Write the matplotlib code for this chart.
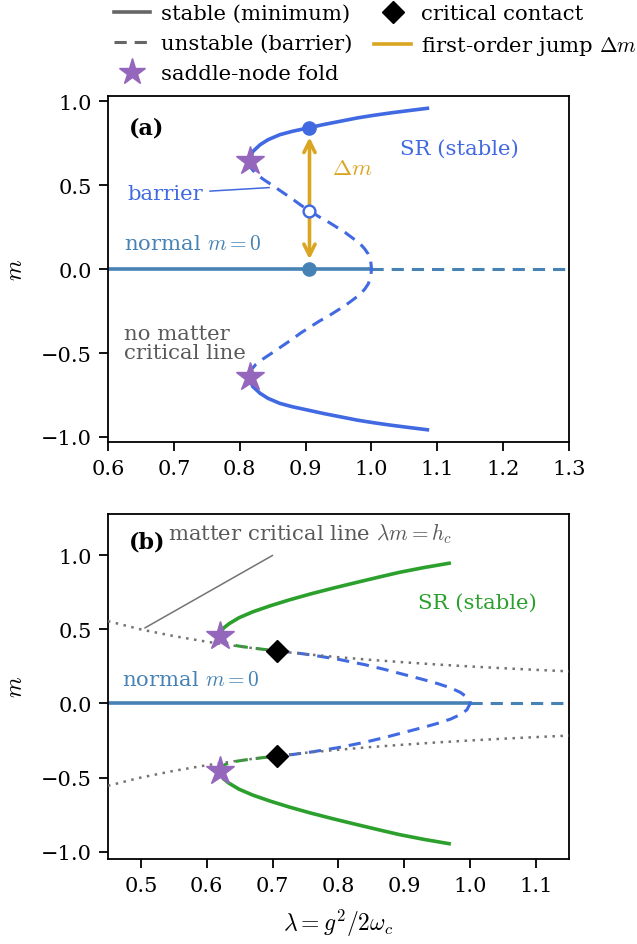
import matplotlib
matplotlib.use("Agg")
import matplotlib.pyplot as plt
import numpy as np
from matplotlib.lines import Line2D

plt.rcParams["font.family"] = ["DejaVu Serif"]
plt.rcParams["mathtext.fontset"] = "cm"
plt.rcParams["axes.linewidth"] = 1.3
plt.rcParams["xtick.major.width"] = 1.3
plt.rcParams["ytick.major.width"] = 1.3
plt.rcParams["xtick.major.size"] = 6.5
plt.rcParams["ytick.major.size"] = 6.5
plt.rcParams["xtick.major.pad"] = 6
plt.rcParams["ytick.major.pad"] = 5
plt.rcParams["xtick.labelsize"] = 15
plt.rcParams["ytick.labelsize"] = 15

# (a) no matter critical line: upper half of the S-curve, written as lambda(m)
m_a_stable = [0.642, 0.67, 0.70, 0.74, 0.77, 0.80, 0.82, 0.842, 0.86, 0.88,
              0.90, 0.915, 0.93, 0.945, 0.957]
lam_a_stable = [0.815, 0.8165, 0.820, 0.831, 0.843, 0.861, 0.880, 0.906, 0.927,
                0.953, 0.979, 1.003, 1.030, 1.060, 1.085]
m_a_unstable = [0.642, 0.62, 0.60, 0.57, 0.535, 0.50, 0.46, 0.42, 0.38, 0.346,
                0.31, 0.277, 0.24, 0.218, 0.18, 0.15, 0.119, 0.09, 0.06, 0.03, 0.0]
lam_a_unstable = [0.815, 0.8155, 0.8175, 0.824, 0.8356, 0.849, 0.864, 0.879,
                  0.893, 0.9065, 0.921, 0.936, 0.951, 0.960, 0.973, 0.983,
                  0.990, 0.995, 0.998, 0.9995, 1.0]
lam_a_fold, m_a_fold = 0.815, 0.642
lam_jump = 0.906
m_jump_sr, m_jump_barrier, m_jump_normal = 0.842, 0.346, 0.0
lam_a_normal = [0.6, 1.0, 1.3]

# (b) with the matter critical line lambda*m = h_c
lam_b_stable = [0.620, 0.621, 0.6255, 0.634, 0.649, 0.670, 0.696, 0.725, 0.757,
                0.792, 0.828, 0.862, 0.893, 0.930, 0.968]
m_b_stable = [0.459, 0.479, 0.509, 0.539, 0.579, 0.619, 0.659, 0.699, 0.739,
              0.779, 0.818, 0.854, 0.886, 0.918, 0.947]
lam_b_pre = [0.620, 0.621, 0.6235, 0.628, 0.635, 0.648, 0.665, 0.685, 0.707]
m_b_pre = [0.459, 0.440, 0.425, 0.412, 0.400, 0.388, 0.377, 0.366, 0.355]
lam_b_unstable = [0.707, 0.73, 0.76, 0.80, 0.84, 0.87, 0.90, 0.93, 0.95, 0.97,
                  0.985, 0.995, 1.0]
m_b_unstable = [0.355, 0.345, 0.327, 0.298, 0.262, 0.230, 0.195, 0.160, 0.135,
                0.106, 0.075, 0.043, 0.0]
lam_hc = [0.45, 0.50, 0.55, 0.60, 0.65, 0.70, 0.75, 0.80, 0.85, 0.90, 0.95,
          1.00, 1.05, 1.10, 1.15]
m_hc = [0.556, 0.500, 0.455, 0.417, 0.385, 0.357, 0.333, 0.3125, 0.294, 0.278,
        0.263, 0.250, 0.238, 0.227, 0.217]
lam_b_fold, m_b_fold = 0.620, 0.459
lam_contact, m_contact = 0.707, 0.355
lam_b_normal = [0.45, 1.0, 1.15]

SR_BLUE = "royalblue"
NORMAL = "steelblue"
GREEN = "tab:green"
PURPLE = "tab:purple"
GOLD = "goldenrod"
TXT_GRAY = "0.35"
DASH = (0, (4, 2.6))
FS = 15.3

fig = plt.figure(figsize=(6.37, 9.45), dpi=100)
ax_a = fig.add_axes([0.1695, 0.5312, 0.7237, 0.3661])
ax_b = fig.add_axes([0.1695, 0.0900, 0.7237, 0.3651])

# ---- panel (a)
ma_s = np.array(m_a_stable)
ma_u = np.array(m_a_unstable)
for sgn in (1, -1):
    ax_a.plot(lam_a_stable, sgn * ma_s, color=SR_BLUE, lw=2.6, zorder=3)
ax_a.plot(lam_a_unstable + lam_a_unstable[::-1][1:],
          list(ma_u) + list(-ma_u[::-1][1:]),
          color=SR_BLUE, lw=2.2, ls=DASH, zorder=3)
ax_a.plot(lam_a_normal[:2], [0, 0], color=NORMAL, lw=2.6, zorder=2)
ax_a.plot(lam_a_normal[1:], [0, 0], color=NORMAL, lw=2.2, ls=DASH, zorder=2)
ax_a.plot([lam_a_fold] * 2, [m_a_fold, -m_a_fold], ls="none", marker="*",
          ms=21, color=PURPLE, zorder=6)

ax_a.annotate("", xy=(lam_jump, m_jump_sr), xytext=(lam_jump, m_jump_normal),
              arrowprops=dict(arrowstyle="<->", color=GOLD, lw=2.6,
                              mutation_scale=20, shrinkA=7, shrinkB=7),
              zorder=4)
ax_a.plot(lam_jump, m_jump_sr, "o", ms=9.5, color=SR_BLUE, zorder=5)
ax_a.plot(lam_jump, m_jump_normal, "o", ms=9.5, color=NORMAL, zorder=5)
ax_a.plot(lam_jump, m_jump_barrier, "o", ms=8.5, mfc="white", mec=SR_BLUE,
          mew=1.7, zorder=5)

ax_a.text(0.94, 0.60, r"$\Delta m$", color=GOLD, fontsize=16.5, va="center")
ax_a.text(1.043, 0.72, "SR (stable)", color=SR_BLUE, fontsize=FS, va="center")
ax_a.text(0.624, 0.15, r"normal $m=0$", color=NORMAL, fontsize=FS, va="center")
ax_a.text(0.624, -0.44, "no matter\ncritical line", color=TXT_GRAY, fontsize=FS,
          va="center", linespacing=1.0)
ax_a.annotate("barrier", xy=(0.845, 0.485), xytext=(0.629, 0.448),
              color=SR_BLUE, fontsize=FS, va="center",
              arrowprops=dict(arrowstyle="-", color=SR_BLUE, lw=1.1,
                              shrinkA=3, shrinkB=0))
ax_a.text(0.045, 0.91, "(a)", transform=ax_a.transAxes, fontsize=16,
          fontweight="bold", va="center")

ax_a.set_xlim(0.6, 1.3)
ax_a.set_ylim(-1.03, 1.03)
ax_a.set_xticks(np.arange(0.6, 1.31, 0.1))
ax_a.set_yticks([-1.0, -0.5, 0.0, 0.5, 1.0])
ax_a.set_ylabel(r"$m$", fontsize=17, labelpad=10)

# ---- panel (b)
mb_s = np.array(m_b_stable)
mb_p = np.array(m_b_pre)
mb_u = np.array(m_b_unstable)
for sgn in (1, -1):
    ax_b.plot(lam_b_stable, sgn * mb_s, color=GREEN, lw=2.6, zorder=3)
    ax_b.plot(lam_b_pre, sgn * mb_p, color=GREEN, lw=2.2, ls=DASH, zorder=3)
    ax_b.plot(lam_hc, sgn * np.array(m_hc), color="0.45", lw=1.8,
              ls=(0, (1, 2.2)), zorder=4)
ax_b.plot(lam_b_unstable + lam_b_unstable[::-1][1:],
          list(mb_u) + list(-mb_u[::-1][1:]),
          color=SR_BLUE, lw=2.2, ls=DASH, zorder=3)
ax_b.plot(lam_b_normal[:2], [0, 0], color=NORMAL, lw=2.6, zorder=2)
ax_b.plot(lam_b_normal[1:], [0, 0], color=NORMAL, lw=2.2, ls=DASH, zorder=2)
ax_b.plot([lam_b_fold] * 2, [m_b_fold, -m_b_fold], ls="none", marker="*",
          ms=21, color=PURPLE, zorder=6)
ax_b.plot([lam_contact] * 2, [m_contact, -m_contact], ls="none", marker="D",
          ms=11, color="black", zorder=6)

ax_b.text(0.921, 0.68, "SR (stable)", color=GREEN, fontsize=FS, va="center")
ax_b.text(0.471, 0.165, r"normal $m=0$", color=NORMAL, fontsize=FS, va="center")
ax_b.text(0.541, 1.15, r"matter critical line $\lambda m=h_c$", color=TXT_GRAY,
          fontsize=FS, va="center")
ax_b.annotate("", xy=(0.506, 0.51), xytext=(0.700, 1.00),
              arrowprops=dict(arrowstyle="-", color="0.45", lw=1.1,
                              shrinkA=0, shrinkB=0))
ax_b.text(0.045, 0.919, "(b)", transform=ax_b.transAxes, fontsize=16,
          fontweight="bold", va="center")

ax_b.set_xlim(0.45, 1.15)
ax_b.set_ylim(-1.05, 1.28)
ax_b.set_xticks(np.arange(0.5, 1.11, 0.1))
ax_b.set_yticks([-1.0, -0.5, 0.0, 0.5, 1.0])
ax_b.set_ylabel(r"$m$", fontsize=17, labelpad=10)
ax_b.set_xlabel(r"$\lambda=g^2/2\omega_c$", fontsize=17, labelpad=8)

# shared legend above the panels
handles = [
    Line2D([], [], color="0.4", lw=2.6, label="stable (minimum)"),
    Line2D([], [], color="0.4", lw=2.2, ls=DASH, label="unstable (barrier)"),
    Line2D([], [], ls="none", marker="*", ms=20, color=PURPLE, label="saddle-node fold"),
    Line2D([], [], ls="none", marker="D", ms=11, color="black", label="critical contact"),
    Line2D([], [], color=GOLD, lw=2.6, label=r"first-order jump $\Delta m$"),
]
fig.legend(handles=handles, loc="upper left", bbox_to_anchor=(0.149, 1.015),
           ncol=2, frameon=False, fontsize=FS, handlelength=1.7,
           handletextpad=0.5, columnspacing=1.05, labelspacing=0.52)

fig.savefig("out.png", dpi=100)
